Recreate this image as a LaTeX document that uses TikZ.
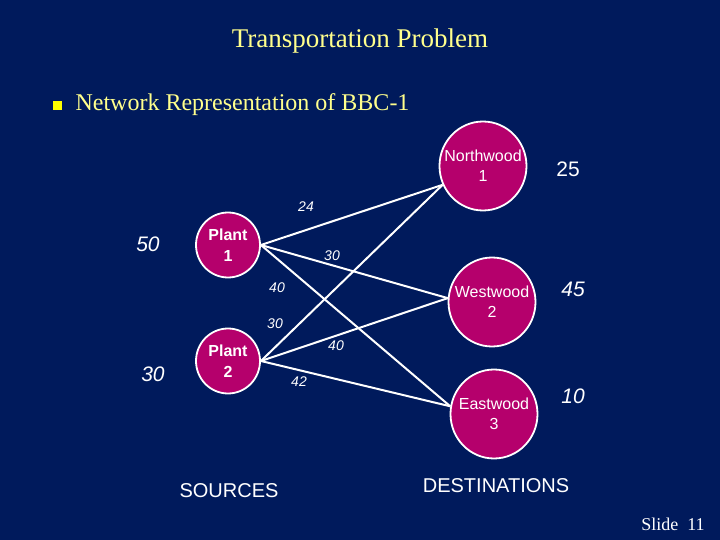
\documentclass[tikz,border=0pt]{standalone}
\usepackage{fontspec}
\setmainfont{Liberation Serif}
\setsansfont{Liberation Sans}
\usetikzlibrary{shapes.geometric}
\definecolor{navy}{RGB}{0,26,92}
\definecolor{magenta}{RGB}{181,0,108}
\definecolor{paleyellow}{RGB}{255,255,140}
\definecolor{brightyellow}{RGB}{255,255,0}
\tikzset{
  site/.style={ellipse,draw=white,line width=1.8pt,fill=magenta,inner sep=0pt,
    text=white,align=center,font=\sffamily\fontsize{16}{20}\selectfont},
  plant/.style={site,minimum width=64pt,minimum height=65pt,
    font=\sffamily\bfseries\fontsize{16}{21}\selectfont},
  dest/.style={site,inner sep=-10pt,minimum width=87pt,minimum height=89pt},
  route/.style={draw=white,line width=2pt},
  cost/.style={text=white,font=\sffamily\itshape\fontsize{14}{16}\selectfont},
  amount/.style={text=white,font=\sffamily\itshape\fontsize{21}{24}\selectfont},
  caption/.style={text=white,font=\sffamily\fontsize{20}{24}\selectfont}
}
\begin{document}
\begin{tikzpicture}[x=1pt,y=-1pt]
\fill[navy] (0,0) rectangle (720,540);
\useasboundingbox (0,0) rectangle (720,540);
% title
\node[text=paleyellow,font=\fontsize{27}{30}\selectfont] (title) at (360,41) {Transportation Problem};
\node[fill=brightyellow,minimum size=9pt,inner sep=0pt] (bul) at (57,106) {};
\node[anchor=west,text=paleyellow,font=\fontsize{24}{28}\selectfont] (sub) at (72,105) {Network Representation of BBC-1};
% nodes
\node[plant] (p1) at (228,245) {Plant\\1};
\node[plant] (p2) at (228,361) {Plant\\2};
\node[dest] (n) at (483,166) {Northwood\\1};
\node[dest] (w) at (492,302) {Westwood\\2};
\node[dest] (e) at (494,414) {Eastwood\\3};
% routes
\draw[route] (p1.east) -- (n.205);
\draw[route] (p1.east) -- (w.175);
\draw[route] (p1.east) -- (e.170);
\draw[route] (p2.east) -- (n.205);
\draw[route] (p2.east) -- (w.175);
\draw[route] (p2.east) -- (e.170);
% costs
\node[cost] (c11) at (306,207) {24};
\node[cost] (c12) at (332,256) {30};
\node[cost] (c13) at (277,288) {40};
\node[cost] (c21) at (275,324) {30};
\node[cost] (c22) at (336,346) {40};
\node[cost] (c23) at (299,382) {42};
% supplies and demands
\node[amount] (s1) at (148,244) {50};
\node[amount] (s2) at (153,374) {30};
\node[amount,font=\sffamily\fontsize{21}{24}\selectfont] (d1) at (568,169) {25};
\node[amount] (d2) at (573,289) {45};
\node[amount] (d3) at (573,396) {10};
% captions
\node[caption] (src) at (229,491) {SOURCES};
\node[caption] (dst) at (496,486) {DESTINATIONS};
\node[text=white,font=\fontsize{18}{20}\selectfont] (slide) at (673,524) {Slide\ \ 11};
\end{tikzpicture}
\end{document}
